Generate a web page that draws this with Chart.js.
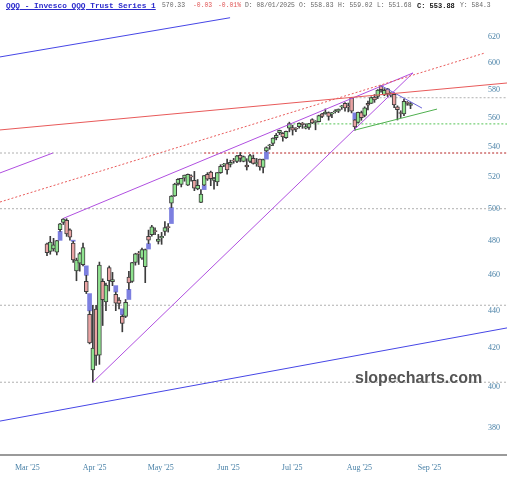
<!DOCTYPE html>
<html>
<head>
<meta charset="utf-8">
<script src="https://cdn.jsdelivr.net/npm/chart.js@4.4.1/dist/chart.umd.min.js"></script>
<style>
  html, body { margin: 0; padding: 0; background: #fff; }
  #wrap { position: relative; width: 507px; height: 480px; }
  #head span { position: absolute; top: 1px; line-height: 10px; white-space: pre;
               font-family: 'Liberation Mono', monospace; font-size: 6.4px; color: #666; }
  #head .sym { font-size: 7.8px; font-weight: bold; color: #2b2bcc; text-decoration: underline; }
  #head .chg { color: #e05555; }
  #head .cl { font-size: 7px; font-weight: bold; color: #111; }
  #mark { position: absolute; left: 355px; top: 369px; line-height: 16px;
          font: bold 16px 'Liberation Sans', Arial, sans-serif; color: #555; }
</style>
</head>
<body>
<div id="wrap">
  <canvas id="myChart" width="507" height="480"></canvas>
  <div id="head">
    <span class="sym" style="left:6px">QQQ - Invesco QQQ Trust Series 1</span>
    <span style="left:162px">570.33</span>
    <span class="chg" style="left:193px">-0.03</span>
    <span class="chg" style="left:218px">-0.01%</span>
    <span style="left:245px">D: 08/01/2025</span>
    <span style="left:299px">O: 558.83</span>
    <span style="left:338px">H: 559.02</span>
    <span style="left:377px">L: 551.68</span>
    <span class="cl" style="left:417px">C: 553.88</span>
    <span style="left:460px">Y: 584.3</span>
  </div>
  <div id="mark">slopecharts.com</div>
</div>
<script>
// QQQ daily candles, 18 Mar - 26 Aug 2025 (x = trading day number from the first candle)
const dates = [
  '2025-03-18','2025-03-19','2025-03-20','2025-03-21','2025-03-24','2025-03-25','2025-03-26','2025-03-27','2025-03-28','2025-03-31',
  '2025-04-01','2025-04-02','2025-04-03','2025-04-04','2025-04-07','2025-04-08','2025-04-09','2025-04-10','2025-04-11','2025-04-14',
  '2025-04-15','2025-04-16','2025-04-17','2025-04-21','2025-04-22','2025-04-23','2025-04-24','2025-04-25','2025-04-28','2025-04-29','2025-04-30',
  '2025-05-01','2025-05-02','2025-05-05','2025-05-06','2025-05-07','2025-05-08','2025-05-09','2025-05-12','2025-05-13','2025-05-14',
  '2025-05-15','2025-05-16','2025-05-19','2025-05-20','2025-05-21','2025-05-22','2025-05-23','2025-05-27','2025-05-28','2025-05-29','2025-05-30',
  '2025-06-02','2025-06-03','2025-06-04','2025-06-05','2025-06-06','2025-06-09','2025-06-10','2025-06-11','2025-06-12','2025-06-13',
  '2025-06-16','2025-06-17','2025-06-18','2025-06-20','2025-06-23','2025-06-24','2025-06-25','2025-06-26','2025-06-27','2025-06-30',
  '2025-07-01','2025-07-02','2025-07-03','2025-07-07','2025-07-08','2025-07-09','2025-07-10','2025-07-11','2025-07-14','2025-07-15','2025-07-16',
  '2025-07-17','2025-07-18','2025-07-21','2025-07-22','2025-07-23','2025-07-24','2025-07-25','2025-07-28','2025-07-29','2025-07-30','2025-07-31',
  '2025-08-01','2025-08-04','2025-08-05','2025-08-06','2025-08-07','2025-08-08','2025-08-11','2025-08-12','2025-08-13','2025-08-14',
  '2025-08-15','2025-08-18','2025-08-19','2025-08-20','2025-08-21','2025-08-22','2025-08-25','2025-08-26'
];

const open = [
  478.5, 474.0, 475.5, 473.5, 487.0, 491.5, 492.8, 487.0, 479.0, 462.6,
  467.0, 466.2, 456.5, 438.1, 408.7, 441.0, 416.3, 456.5, 445.0, 464.5, 456.4, 449.2, 446.0, 437.0, 437.0, 459.0, 456.5, 467.5, 472.5, 470.0, 465.0,
  483.0, 484.0, 486.5, 480.0, 482.0, 486.0, 489.0, 503.5, 508.0, 516.0, 515.5, 519.5, 515.0, 520.5, 518.0, 512.5, 504.0, 515.0, 522.0, 523.5, 518.0,
  517.0, 523.0, 528.0, 529.0, 528.5, 531.0, 530.5, 534.5, 530.5, 528.0, 530.5, 532.5, 529.0, 532.0, 526.5, 537.5, 541.0, 542.5, 546.5, 550.0,
  549.5, 546.5, 553.0, 553.5, 552.5, 554.0, 556.5, 553.0, 553.5, 559.0, 557.0, 557.5, 563.0, 563.0, 564.0, 563.0, 564.5, 565.0, 568.0, 570.5, 568.5, 574.5,
  558.8, 557.0, 564.0, 562.0, 570.5, 570.5, 575.0, 575.5, 583.0, 576.5, 581.0, 576.5, 577.0, 568.0, 563.5, 563.0, 571.0, 569.0
];
const high = [
  479.0, 483.0, 481.8, 480.6, 490.9, 494.0, 493.8, 487.5, 480.0, 470.0,
  473.4, 479.0, 460.0, 440.0, 443.1, 443.0, 467.7, 458.0, 455.6, 465.4, 461.7, 450.5, 447.3, 437.8, 446.3, 462.3, 467.6, 472.9, 474.0, 476.0, 475.4,
  486.8, 489.7, 488.2, 484.2, 485.4, 492.0, 490.8, 508.3, 516.2, 519.2, 519.4, 521.5, 522.2, 521.7, 523.9, 518.6, 512.1, 521.2, 523.1, 524.1, 520.0,
  523.2, 528.3, 529.2, 532.0, 531.3, 532.5, 534.5, 536.4, 534.1, 532.3, 535.2, 534.8, 532.5, 532.1, 532.0, 540.3, 542.0, 546.3, 549.4, 551.7,
  550.0, 551.0, 557.2, 555.1, 553.5, 556.7, 557.0, 555.9, 556.4, 559.6, 558.3, 562.1, 563.4, 566.5, 564.4, 564.1, 566.0, 566.5, 569.0, 571.0, 570.7, 574.6,
  559.0, 564.3, 565.0, 568.0, 572.1, 575.2, 576.8, 580.4, 583.3, 581.1, 581.3, 578.3, 578.0, 568.7, 565.2, 573.6, 571.8, 571.1
];
const low = [
  471.4, 472.3, 474.2, 471.9, 486.0, 490.2, 483.0, 480.7, 467.5, 456.9,
  462.4, 465.5, 449.6, 422.2, 402.4, 411.0, 411.5, 432.0, 440.1, 451.1, 454.1, 440.1, 441.1, 428.6, 436.3, 452.0, 455.9, 465.9, 466.3, 469.3, 455.8,
  478.6, 483.1, 484.0, 478.4, 478.2, 483.6, 485.6, 500.7, 507.8, 515.0, 513.8, 517.5, 514.7, 517.5, 511.4, 512.0, 503.8, 514.7, 518.0, 514.6, 512.4,
  514.6, 522.6, 527.0, 522.1, 526.8, 529.3, 529.7, 530.2, 530.2, 524.8, 529.7, 528.7, 527.3, 524.7, 522.9, 536.9, 538.6, 541.0, 545.0, 548.6,
  544.1, 546.0, 550.5, 548.3, 550.6, 553.1, 552.9, 552.5, 552.1, 556.2, 551.9, 557.3, 560.3, 562.8, 558.6, 560.4, 563.6, 563.9, 566.2, 564.9, 564.4, 563.7,
  551.7, 556.6, 558.5, 560.9, 565.8, 570.4, 571.2, 573.9, 578.5, 576.0, 575.4, 575.1, 567.4, 558.7, 560.4, 561.8, 569.1, 566.7
];
const close = [
  473.2, 479.6, 477.9, 480.5, 490.7, 493.5, 484.4, 482.5, 468.9, 468.9,
  472.7, 476.2, 450.7, 422.7, 420.0, 416.1, 466.0, 446.2, 454.4, 457.0, 457.5, 444.2, 444.1, 433.1, 444.7, 455.7, 467.4, 472.6, 472.4, 475.0, 475.0,
  480.7, 488.8, 485.9, 481.4, 483.0, 488.3, 488.3, 507.9, 515.6, 518.7, 519.3, 521.5, 522.0, 520.3, 513.0, 514.8, 509.2, 521.2, 518.9, 519.1, 519.1,
  523.2, 527.3, 528.4, 524.8, 529.9, 530.7, 534.2, 532.4, 533.7, 526.9, 534.3, 529.1, 529.0, 526.8, 531.7, 539.8, 541.2, 546.2, 548.1, 551.6,
  547.0, 550.8, 556.2, 551.6, 552.3, 556.3, 555.5, 554.2, 556.2, 556.7, 557.3, 561.8, 561.3, 564.2, 561.3, 563.8, 565.0, 566.4, 568.1, 567.3, 568.0, 565.0,
  553.9, 564.1, 560.3, 567.3, 569.2, 574.6, 572.9, 580.1, 580.3, 579.9, 577.3, 577.1, 569.3, 565.9, 563.3, 572.0, 570.4, 570.3
];

// axis ticks
const monthTickPos = [-9.8, 10.9, 30.75, 52, 71.7, 91.5, 113.2];
const monthTickLabels = ["Mar '25", "Apr '25", "May '25", "Jun '25", "Jul '25", "Aug '25", "Sep '25"];
const priceTicks = [380, 400, 420, 440, 460, 480, 500, 520, 540, 560, 580, 600, 620];

// drawn trendlines: [x, price] end points
const blueUpper   = [[-14.35, 604.6], [55.9, 635.0]];
const blueLower   = [[-14.35, 383.3], [140.46, 430.7]];
const redSolid    = [[-14.35, 551.8], [140.46, 585.2]];
const redDotted   = [[-14.35, 504.2], [133.7, 607.6]];
const purpleLeft  = [[-14.35, 522.9], [1.8, 536.1]];
const wedgeUpper  = [[5, 494.0], [111.75, 592.6]];
const wedgeLower  = [[14, 402.4], [111.75, 592.6]];
const violetDown  = [[102, 583.3], [114.5, 567.1]];
const greenRising = [[94, 551.7], [119.1, 566.4]];

// horizontal levels: [price, fromX, toX]
const grayLevels  = [[402.4, -14.35, 140.46], [443.1, -14.35, 140.46], [500, -14.35, 140.46],
                     [536.1, -14.35, 140.46], [574.5, 93, 140.46]];
const redLevel    = [536.1, 48, 140.46];
const greenLevel  = [556.0, 74, 140.46];

const UP = '#8fe38f', DOWN = '#eaa3a3', GAP = '#7c7fe0', EDGE = '#3c3c3c';

const bodies = dates.map((d, i) => ({ x: i, y: [open[i], close[i]] }));
const wicks = dates.map((d, i) => ({ x: i, y: [low[i], high[i]] }));
const bodyColors = dates.map((d, i) => close[i] >= open[i] ? UP : DOWN);

// price gaps: empty space between one day's range and the next
const gaps = [];
for (let i = 1; i < dates.length; i++) {
    if (low[i] > high[i - 1]) gaps.push({ x: i, y: [high[i - 1], low[i]] });
    else if (high[i] < low[i - 1]) gaps.push({ x: i, y: [high[i], low[i - 1]] });
}

function seg(pts, color, dash, order) {
    return {
        type: 'line',
        data: pts.map(p => ({ x: p[0], y: p[1] })),
        borderColor: color,
        borderWidth: 1,
        borderDash: dash || [],
        pointRadius: 0,
        fill: false,
        order: order
    };
}

const datasets = [
    seg(blueUpper, '#4646e6', null, 0),
    seg(blueLower, '#4646e6', null, 0),
    seg(redSolid, '#e85a5a', null, 0),
    seg(redDotted, '#e85a5a', [2, 2], 0),
    seg(purpleLeft, '#b04fe0', null, 0),
    seg(wedgeUpper, '#b04fe0', null, 0),
    seg(wedgeLower, '#b04fe0', null, 0),
    seg(violetDown, '#6a63d8', null, 0),
    seg(greenRising, '#4fb04f', null, 0),
    {
        type: 'bar', data: bodies, backgroundColor: bodyColors, borderColor: EDGE,
        borderWidth: 1, borderSkipped: false, barThickness: 4, minBarLength: 1, grouped: false, order: 1
    },
    {
        type: 'bar', data: wicks, backgroundColor: EDGE, borderWidth: 0,
        barThickness: 1, grouped: false, order: 2
    },
    {
        type: 'bar', data: gaps, backgroundColor: GAP, borderWidth: 0,
        barThickness: 4, grouped: false, order: 3
    },
    seg([[redLevel[1], redLevel[0]], [redLevel[2], redLevel[0]]], '#e04848', [2, 2], 4),
    seg([[greenLevel[1], greenLevel[0]], [greenLevel[2], greenLevel[0]]], '#55c455', [2, 2], 4)
];
grayLevels.forEach(l => datasets.push(seg([[l[1], l[0]], [l[2], l[0]]], '#b0b0b0', [2, 2], 5)));

const tickFont = { family: "'Liberation Serif', serif", size: 8 };

new Chart(document.getElementById('myChart').getContext('2d'), {
    type: 'bar',
    data: { datasets: datasets },
    options: {
        responsive: false,
        animation: false,
        layout: { padding: { top: 17, left: 0, right: 0, bottom: 0 } },
        plugins: { legend: { display: false }, tooltip: { enabled: false } },
        scales: {
            x: {
                type: 'linear',
                offset: false,
                bounds: 'data',
                min: -14.35,
                max: 140.46,
                afterBuildTicks: s => { s.ticks = monthTickPos.map(v => ({ value: v })); },
                afterFit: s => { s.paddingLeft = 0; s.paddingRight = 0; },
                ticks: {
                    callback: (v, i) => monthTickLabels[i],
                    autoSkip: false, maxRotation: 0, align: 'start',
                    padding: 7.7, color: '#4a82a8', font: tickFont
                },
                grid: { display: false, drawTicks: false, offset: false },
                border: { display: true, color: '#9a9a9a', width: 2 }
            },
            y: {
                type: 'logarithmic',
                position: 'right',
                bounds: 'data',
                min: 367.37,
                max: 635.58,
                afterBuildTicks: s => { s.ticks = priceTicks.map(v => ({ value: v })); },
                afterFit: s => { s.width = 0; s.paddingTop = 0; s.paddingBottom = 0; },
                ticks: {
                    mirror: true, padding: -7, autoSkip: false,
                    callback: v => String(v),
                    color: '#4a82a8', font: tickFont
                },
                grid: { display: false, drawTicks: false },
                border: { display: false }
            }
        }
    }
});
</script>
</body>
</html>
